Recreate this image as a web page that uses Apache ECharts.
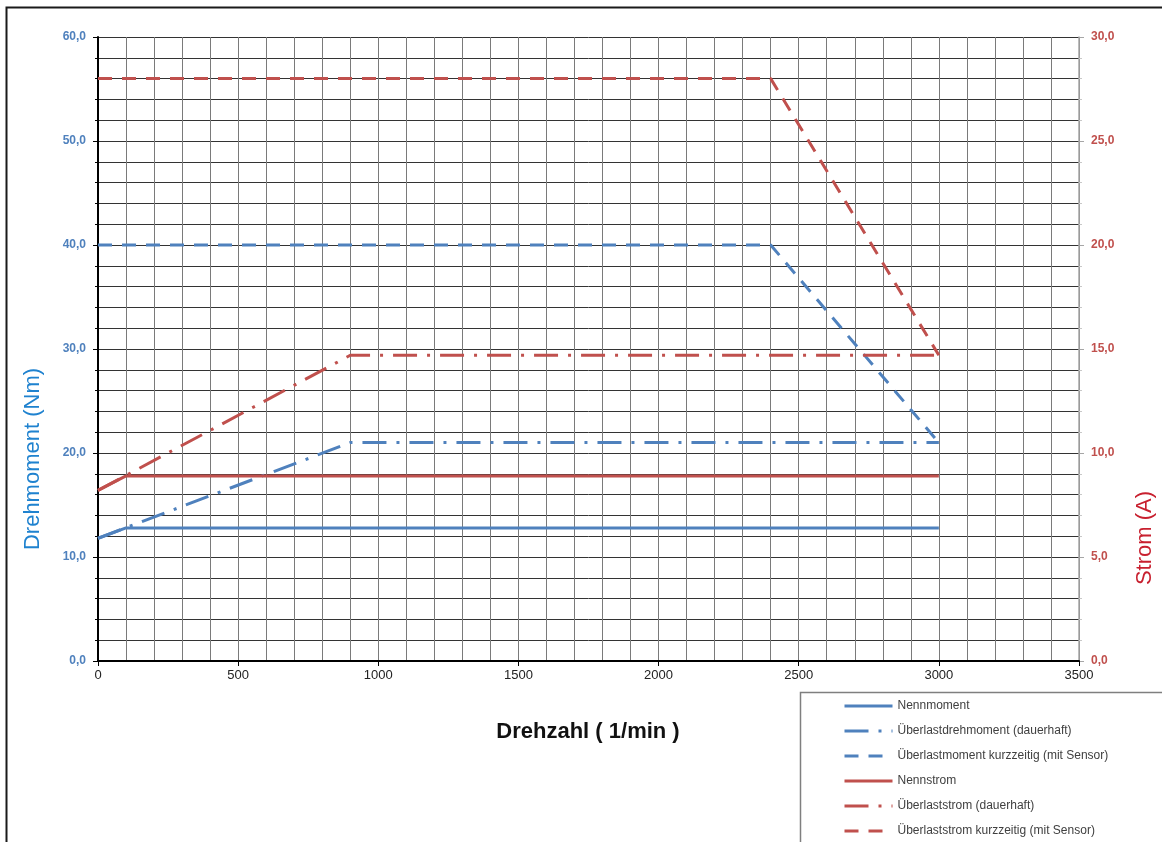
<!DOCTYPE html>
<html>
<head>
<meta charset="utf-8">
<script src="https://cdn.jsdelivr.net/npm/echarts@6/dist/echarts.min.js"></script>
<style>
  html, body { margin: 0; padding: 0; background: #fff; }
  #chart { width: 1162px; height: 842px; }
</style>
</head>
<body>
<div id="chart"></div>
<script>
// speed points (1/min) and values
const nennSpeed = [0, 100, 3000];
const nennmoment = [11.8, 12.8, 12.8];
const nennstrom = [8.2, 8.9, 8.9];

const dauerSpeed = [0, 900, 3000];
const ueberlastDrehmoment = [11.8, 21.0, 21.0];
const ueberlastStrom = [8.2, 14.7, 14.7];

const kurzSpeed = [0, 2400, 3000];
const kurzMoment = [40.0, 40.0, 21.0];
const kurzStrom = [28.0, 28.0, 14.7];

const seriesNames = [
  "Nennmoment",
  "Überlastdrehmoment (dauerhaft)",
  "Überlastmoment kurzzeitig (mit Sensor)",
  "Nennstrom",
  "Überlaststrom (dauerhaft)",
  "Überlaststrom kurzzeitig (mit Sensor)"
];

const blue = "#4f81bd";
const red = "#c0504d";
const dashDot = [24, 10, 3, 10];
const dashed = [14, 10];

const pairs = (xs, ys) => xs.map((x, i) => [x, ys[i]]);
const comma = (v) => v.toFixed(1).replace(".", ",");

const mkLine = (name, data, color, type, yAxisIndex) => ({
  name: name,
  type: "line",
  yAxisIndex: yAxisIndex,
  data: data,
  symbol: "none",
  animation: false,
  lineStyle: { color: color, width: 3, type: type },
  itemStyle: { color: color }
});

const chart = echarts.init(document.getElementById("chart"));
chart.setOption({
  backgroundColor: "#fff",
  textStyle: { fontFamily: "Liberation Sans, Arial, sans-serif" },
  grid: { left: 98, right: 83, top: 37, bottom: 181 },
  legend: {
    orient: "vertical",
    left: 843,
    top: 700,
    itemWidth: 48,
    itemHeight: 12,
    itemGap: 13,
    padding: 0,
    itemStyle: { color: "transparent", borderWidth: 0, opacity: 0 },
    lineStyle: { width: 3 },
    textStyle: { fontSize: 12, color: "#404040", fontFamily: "Liberation Sans, Arial, sans-serif" },
    data: seriesNames
  },
  xAxis: {
    type: "value",
    min: 0,
    max: 3500,
    interval: 500,
    axisLine: { lineStyle: { color: "#000", width: 2 } },
    axisTick: { length: 5, lineStyle: { color: "#000" } },
    axisLabel: { color: "#222", fontSize: 13, margin: 8, formatter: (v) => String(v) },
    splitLine: { lineStyle: { color: "#7a7a7a", width: 1 } },
    minorTick: { show: true, splitNumber: 5, length: 0 },
    minorSplitLine: { show: true, lineStyle: { color: "#7a7a7a", width: 1 } }
  },
  yAxis: [
    {
      type: "value",
      min: 0,
      max: 60,
      interval: 10,
      axisLine: { show: true, lineStyle: { color: "#000", width: 2 } },
      axisTick: { show: true, length: 5, lineStyle: { color: "#000" } },
      minorTick: { show: true, splitNumber: 5, length: 3, lineStyle: { color: "#000" } },
      axisLabel: { color: blue, fontWeight: "bold", fontSize: 12, margin: 12, formatter: comma },
      splitLine: { lineStyle: { color: "#333", width: 1 } },
      minorSplitLine: { show: true, lineStyle: { color: "#333", width: 1 } }
    },
    {
      type: "value",
      min: 0,
      max: 30,
      interval: 5,
      position: "right",
      axisLine: { show: true, lineStyle: { color: "#a6a6a6", width: 1.5 } },
      axisTick: { show: true, length: 5, lineStyle: { color: "#a6a6a6" } },
      minorTick: { show: true, splitNumber: 5, length: 3, lineStyle: { color: "#c8c8c8" } },
      axisLabel: { color: red, fontWeight: "bold", fontSize: 12, margin: 12, formatter: comma },
      splitLine: { show: false },
      minorSplitLine: { show: false }
    }
  ],
  series: [
    mkLine(seriesNames[0], pairs(nennSpeed, nennmoment), blue, "solid", 0),
    mkLine(seriesNames[1], pairs(dauerSpeed, ueberlastDrehmoment), blue, dashDot, 0),
    mkLine(seriesNames[2], pairs(kurzSpeed, kurzMoment), blue, dashed, 0),
    mkLine(seriesNames[3], pairs(nennSpeed, nennstrom), red, "solid", 1),
    mkLine(seriesNames[4], pairs(dauerSpeed, ueberlastStrom), red, dashDot, 1),
    mkLine(seriesNames[5], pairs(kurzSpeed, kurzStrom), red, dashed, 1)
  ],
  graphic: [
    {
      type: "rect",
      silent: true,
      shape: { x: 6.5, y: 7.5, width: 1300, height: 1000 },
      style: { fill: null, stroke: "#1a1a1a", lineWidth: 2 }
    },
    {
      type: "rect",
      silent: true,
      shape: { x: 800.5, y: 692.5, width: 500, height: 300 },
      style: { fill: null, stroke: "#7f7f7f", lineWidth: 1.5 }
    },
    {
      type: "text",
      silent: true,
      x: 588,
      y: 732,
      style: {
        text: "Drehzahl ( 1/min )",
        font: "bold 22px Liberation Sans, Arial, sans-serif",
        fill: "#111",
        align: "center",
        verticalAlign: "middle"
      }
    },
    {
      type: "text",
      silent: true,
      x: 33,
      y: 459,
      rotation: Math.PI / 2,
      style: {
        text: "Drehmoment (Nm)",
        font: "22px Liberation Sans, Arial, sans-serif",
        fill: "#1f82cf",
        align: "center",
        verticalAlign: "middle"
      }
    },
    {
      type: "text",
      silent: true,
      x: 1145,
      y: 538,
      rotation: Math.PI / 2,
      style: {
        text: "Strom (A)",
        font: "22px Liberation Sans, Arial, sans-serif",
        fill: "#c8202f",
        align: "center",
        verticalAlign: "middle"
      }
    }
  ]
});
</script>
</body>
</html>
